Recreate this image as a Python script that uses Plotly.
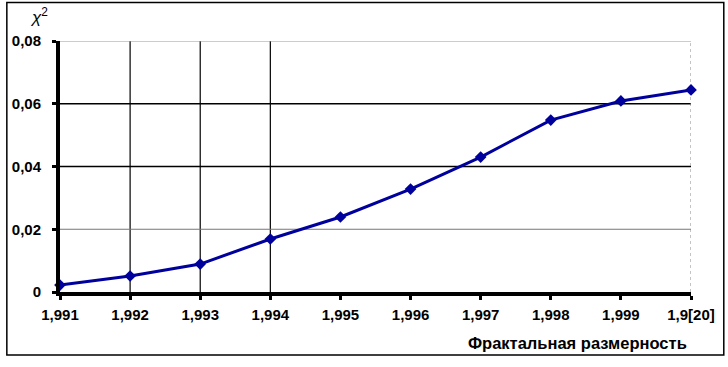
import plotly.graph_objects as go

x_vals = [1.991, 1.992, 1.993, 1.994, 1.995, 1.996, 1.997, 1.998, 1.999, 2.000]
chi2 = [0.0022, 0.0051, 0.0089, 0.0169, 0.0239, 0.0328, 0.0430, 0.0548, 0.0609, 0.0644]
x_tick_text = ["1,991", "1,992", "1,993", "1,994", "1,995", "1,996", "1,997", "1,998", "1,999", "1,9[20]"]
y_tick_vals = [0, 0.02, 0.04, 0.06, 0.08]
y_tick_text = ["0", "0,02", "0,04", "0,06", "0,08"]
v_grid = [1.992, 1.993, 1.994]

L, R, T, B = 56, 37, 41, 75
W, H = 728, 367
pw, ph = W - L - R, H - T - B

fig = go.Figure()
fig.add_trace(go.Scatter(
    x=x_vals, y=chi2, mode="lines+markers",
    line=dict(color="#00009C", width=3),
    marker=dict(symbol="diamond", size=9, color="#00009C"),
    cliponaxis=False, showlegend=False, hoverinfo="skip",
))

shapes = []
for gx in v_grid:
    shapes.append(dict(type="line", xref="x", yref="paper", x0=gx, x1=gx, y0=0, y1=1,
                       line=dict(color="black", width=1.2), layer="below"))
shapes.append(dict(type="line", xref="paper", yref="y", x0=0, x1=1, y0=0.06, y1=0.06,
                   line=dict(color="black", width=1.5), layer="below"))
shapes.append(dict(type="line", xref="paper", yref="y", x0=0, x1=1, y0=0.04, y1=0.04,
                   line=dict(color="black", width=1.3), layer="below"))
shapes.append(dict(type="line", xref="paper", yref="y", x0=0, x1=1, y0=0.02, y1=0.02,
                   line=dict(color="#777777", width=1), layer="below"))
shapes.append(dict(type="line", xref="paper", yref="y", x0=0, x1=1, y0=0.08, y1=0.08,
                   line=dict(color="#999999", width=1), layer="below"))
shapes.append(dict(type="line", xref="x", yref="paper", x0=2.0, x1=2.0, y0=0, y1=1,
                   line=dict(color="#888888", width=1, dash="dot"), layer="below"))
# outer frame
shapes.append(dict(type="rect", xref="paper", yref="paper",
                   x0=(2.5 - L) / pw, x1=(724 - L) / pw,
                   y0=(H - B - 355) / ph, y1=(H - B - 2.5) / ph,
                   line=dict(color="black", width=1.5), layer="below"))

tick_font = dict(family="Liberation Sans, Arial, sans-serif", size=15, color="black", weight="bold")

fig.update_layout(
    width=W, height=H,
    margin=dict(l=L, r=R, t=T, b=B),
    paper_bgcolor="white", plot_bgcolor="white",
    shapes=shapes,
    xaxis=dict(range=[1.991, 2.000], tickvals=x_vals, ticktext=x_tick_text,
               showgrid=False, zeroline=False, showline=True, linecolor="black", linewidth=4,
               ticks="outside", ticklen=4, tickwidth=3, tickcolor="black",
               tickfont=tick_font, ticklabelstandoff=2),
    yaxis=dict(range=[0, 0.08], tickvals=y_tick_vals, ticktext=y_tick_text,
               showgrid=False, zeroline=False, showline=True, linecolor="black", linewidth=4,
               ticks="outside", ticklen=4, tickwidth=3, tickcolor="black",
               tickfont=tick_font, ticklabelstandoff=8),
    annotations=[
        dict(text="<i>χ</i><sup>2</sup>", xref="paper", yref="paper", x=(35 - L) / pw, y=(H - B - 16) / ph,
             xanchor="center", yanchor="middle", showarrow=False,
             font=dict(family="Liberation Sans, Arial, sans-serif", size=17, color="black")),
        dict(text="<b>Фрактальная размерность</b>", xref="paper", yref="paper",
             x=(689 - L) / pw, y=(H - B - 343) / ph, xanchor="right", yanchor="middle", showarrow=False,
             font=dict(family="Liberation Sans, Arial, sans-serif", size=16.5, color="black")),
    ],
)

fig.write_html("out.html", config={"displayModeBar": False},
               post_script="document.body.style.margin='0';")
